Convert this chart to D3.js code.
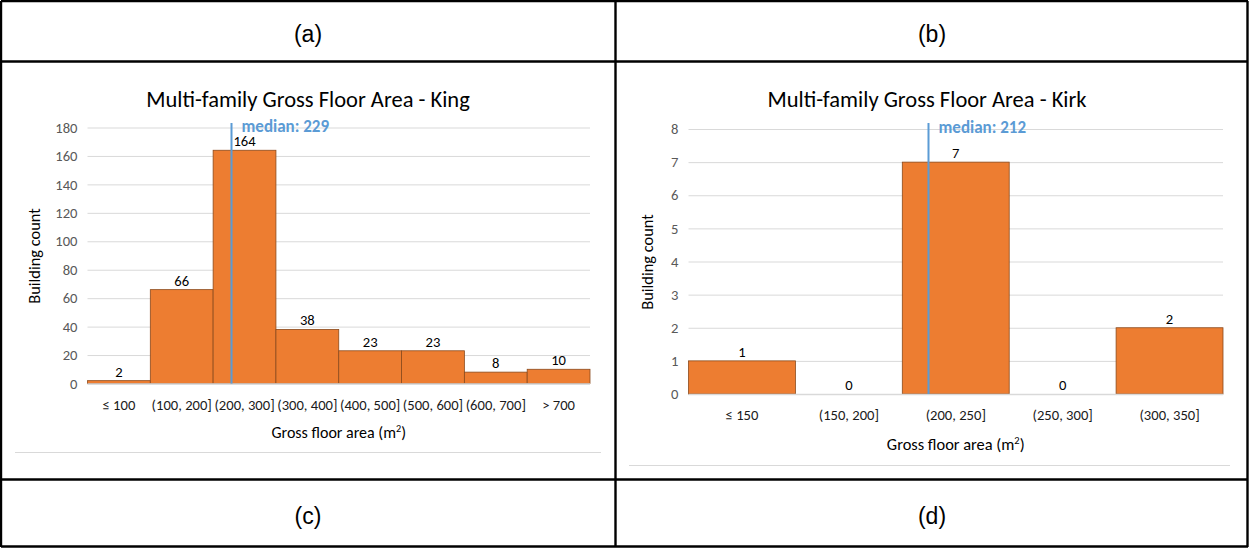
<!DOCTYPE html>
<html><head><meta charset="utf-8">
<script src="https://cdn.jsdelivr.net/npm/d3@7"></script>
<style>
body{margin:0;background:#fff;}
svg{display:block;}
</style>
</head><body>
<svg id="c" width="1249" height="548"></svg>
<script>
// ---- data ----
const kingCategories = ["≤ 100","(100, 200]","(200, 300]","(300, 400]","(400, 500]","(500, 600]","(600, 700]","> 700"];
const kingCounts = [2,66,164,38,23,23,8,10];
const kingMedian = 229;
const kingBinEdges = [0,100,200,300,400,500,600,700,800];
const kingTicks = [0,20,40,60,80,100,120,140,160,180];

const kirkCategories = ["≤ 150","(150, 200]","(200, 250]","(250, 300]","(300, 350]"];
const kirkCounts = [1,0,7,0,2];
const kirkMedian = 212;
const kirkBinEdges = [100,150,200,250,300,350];
const kirkTicks = [0,1,2,3,4,5,6,7,8];

const panelLabels = ["(a)","(b)","(c)","(d)"];

const svg = d3.select("#c");
const FONT = "Carlito, Calibri, Lato, sans-serif";

// ---- table grid ----
const tg = svg.append("g");
const lines = [
  [1,1,1248,1],[1,546.5,1248,546.5],[1,1,1,547],[1247.5,1,1247.5,547],
  [1,61.5,1248,61.5],[1,479.5,1248,479.5],[615.5,1,615.5,547]
];
lines.forEach(l=>tg.append("line").attr("x1",l[0]).attr("y1",l[1]).attr("x2",l[2]).attr("y2",l[3])
  .attr("stroke","#000").attr("stroke-width",2.4));
const labelPos = [[308,42],[932,42],[308,524],[932,524]];
panelLabels.forEach((t,i)=>svg.append("text").attr("x",labelPos[i][0]).attr("y",labelPos[i][1])
  .attr("text-anchor","middle").attr("font-family","Liberation Sans, Arial, sans-serif")
  .attr("font-size",23).attr("fill","#000").text(t));

function chart(o){
  const g = svg.append("g");
  const y = d3.scaleLinear().domain([0,o.ymax]).range([o.y0,o.y1]);
  const x = d3.scaleBand().domain(o.cats).range([o.x0,o.x1]).padding(0);
  const xv = d3.scaleLinear().domain([o.edges[0],o.edges[o.edges.length-1]]).range([o.x0,o.x1]);

  // chart border bottom
  g.append("line").attr("x1",o.bx0).attr("x2",o.bx1).attr("y1",o.by).attr("y2",o.by)
    .attr("stroke","#d9d9d9").attr("stroke-width",1);

  // title
  g.append("text").attr("x",o.tx).attr("y",o.ty).attr("text-anchor","middle")
    .attr("font-family",FONT).attr("font-size",22.5).attr("fill","#000").text(o.title);

  // grid
  const ya = d3.axisLeft(y).tickValues(o.ticks).tickSize(-(o.x1-o.x0)).tickPadding(10).tickFormat(d3.format("d"));
  const ag = g.append("g").attr("transform",`translate(${o.x0},0)`).call(ya);
  ag.attr("font-size",null).attr("font-family",null);
  ag.select(".domain").remove();
  ag.selectAll(".tick line").attr("stroke","#d9d9d9").attr("stroke-width",1);
  ag.selectAll(".tick text").attr("font-family",FONT).attr("font-size",14.6).attr("fill","#595959");

  // bars
  g.selectAll("rect.bar").data(o.counts).join("rect").attr("class","bar")
    .attr("x",(d,i)=>x(o.cats[i])).attr("width",x.bandwidth())
    .attr("y",d=>y(d)).attr("height",d=>y(0)-y(d))
    .attr("fill","#ed7d31").attr("stroke","#8b4a1c").attr("stroke-width",0.8);

  // baseline
  g.append("line").attr("x1",o.x0).attr("x2",o.x1).attr("y1",y(0)+0.5).attr("y2",y(0)+0.5)
    .attr("stroke","#d9d9d9").attr("stroke-width",1.5);

  // value labels
  g.selectAll("text.val").data(o.counts).join("text").attr("class","val")
    .attr("x",(d,i)=>x(o.cats[i])+x.bandwidth()/2).attr("y",d=>y(d)-4)
    .attr("text-anchor","middle").attr("font-family",FONT).attr("font-size",14.6).attr("fill","#000")
    .text(d=>d);

  // x category labels
  const xa = d3.axisBottom(x).tickSize(0).tickPadding(0);
  const xg = g.append("g").attr("transform",`translate(0,${o.catY})`).call(xa);
  xg.attr("font-size",null).attr("font-family",null);
  xg.select(".domain").remove();
  xg.selectAll(".tick text").attr("font-family",FONT).attr("font-size",14.6).attr("fill","#1a1a1a").attr("dy","0");

  // axis titles
  const xt = g.append("text").attr("x",(o.x0+o.x1)/2).attr("y",o.xtY).attr("text-anchor","middle")
    .attr("font-family",FONT).attr("font-size",o.xtSize).attr("fill","#000");
  xt.append("tspan").text("Gross floor area (m");
  xt.append("tspan").attr("font-size",o.xtSize*0.64).attr("dy",-6).text("2");
  xt.append("tspan").attr("dy",6).text(")");
  g.append("text").attr("transform",`translate(${o.ytX},${o.ytY}) rotate(-90)`)
    .attr("text-anchor","middle").attr("font-family",FONT).attr("font-size",16.4).attr("fill","#000")
    .text("Building count");

  // median
  const mx = Math.round(o.medX(xv))+0.5;
  g.append("line").attr("x1",mx).attr("x2",mx).attr("y1",o.medTop).attr("y2",y(0))
    .attr("stroke","#5b9bd5").attr("stroke-width",2);
  g.append("text").attr("x",mx+10).attr("y",o.y1+4).attr("font-family",FONT).attr("font-weight","bold")
    .attr("font-size",17).attr("fill","#5b9bd5").text("median: "+o.median);
}

chart({title:"Multi-family Gross Floor Area - King", cats:kingCategories, counts:kingCounts,
  median:kingMedian, edges:kingBinEdges, ticks:kingTicks, ymax:180,
  x0:87.5, x1:590, y0:383.5, y1:127.5, tx:308, ty:107, catY:410, xtY:438, xtSize:16, ytX:40, ytY:256,
  bx0:15, bx1:601, by:452.5, medTop:123,
  medX: xv => xv(kingMedian)});

chart({title:"Multi-family Gross Floor Area - Kirk", cats:kirkCategories, counts:kirkCounts,
  median:kirkMedian, edges:kirkBinEdges, ticks:kirkTicks, ymax:8,
  x0:688.5, x1:1223, y0:394, y1:129, tx:927, ty:107, catY:420, xtY:450, xtSize:16.4, ytX:653, ytY:262,
  bx0:629, bx1:1230, by:465.5, medTop:123,
  medX: xv => xv(kirkMedian)});
</script>
</body></html>
